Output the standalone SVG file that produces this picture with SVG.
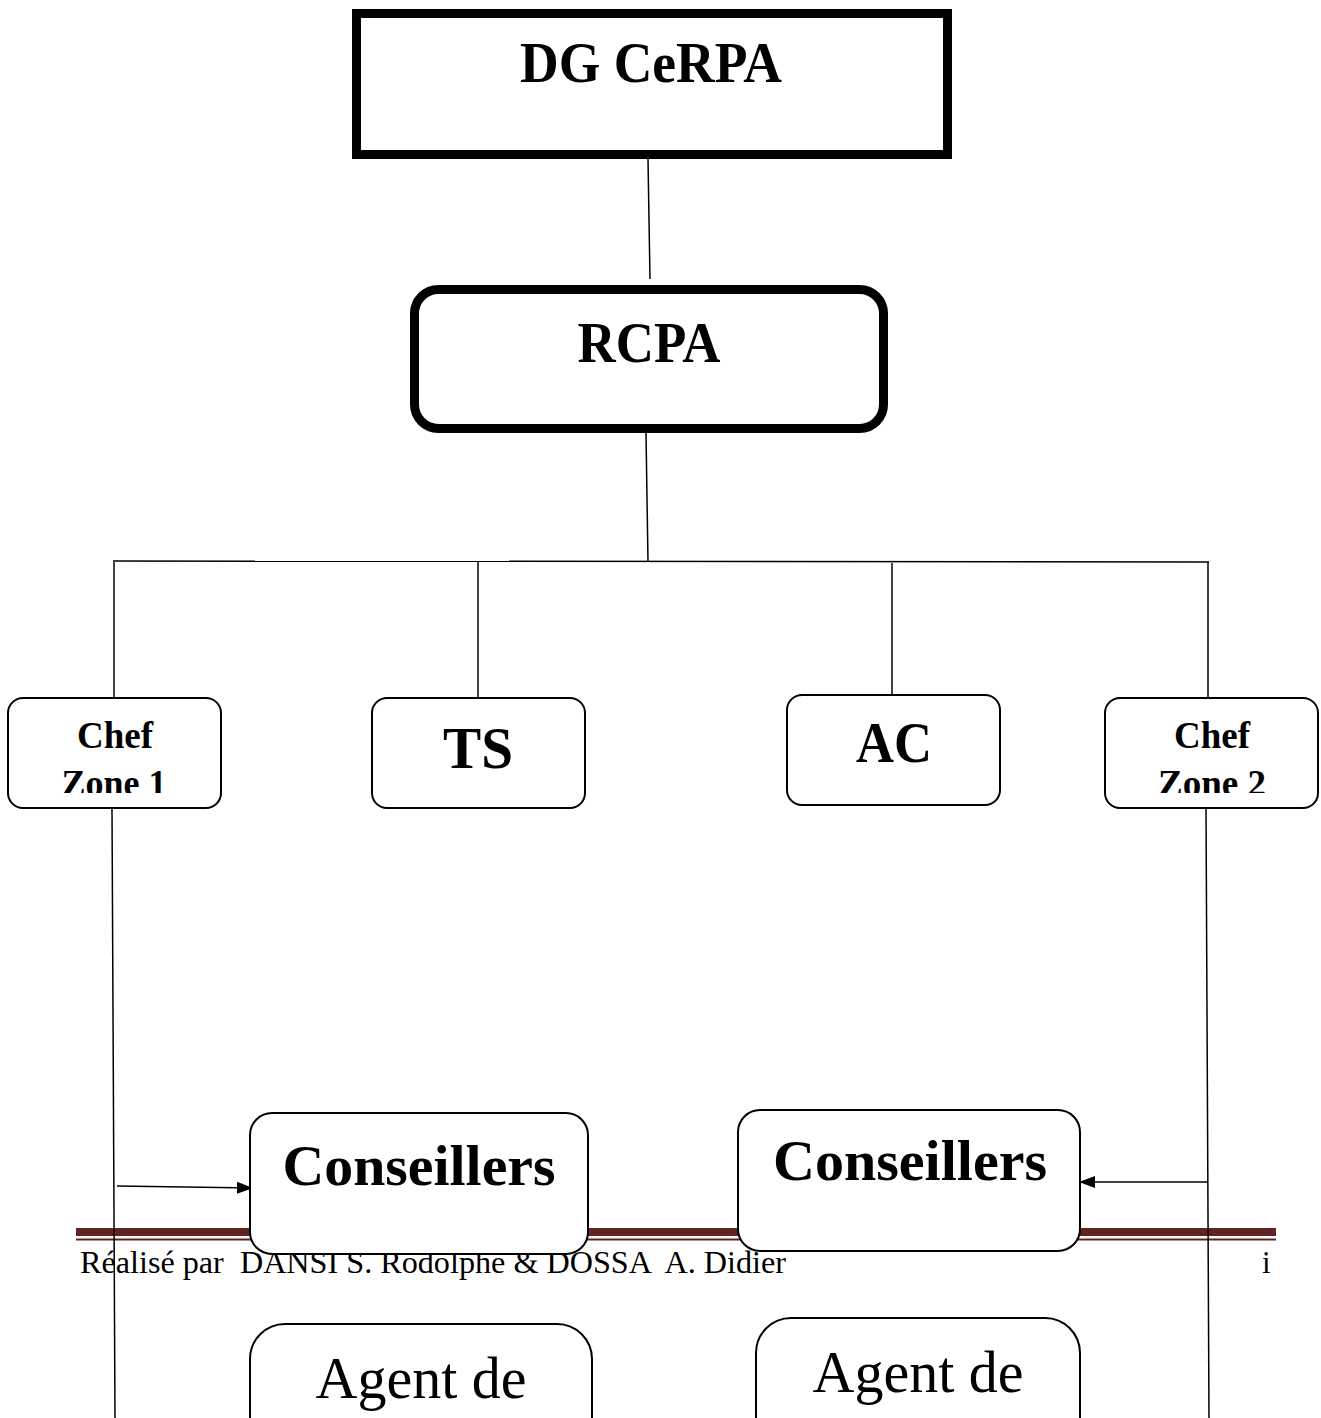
<svg xmlns="http://www.w3.org/2000/svg" width="1321" height="1418" viewBox="0 0 1321 1418">
<style>
.t{font-family:"Liberation Serif","Times New Roman",serif;fill:#000;}
.b{font-weight:bold;}
.box{fill:#fff;stroke:#000;stroke-width:2;}
.thick{fill:#fff;stroke:#000;stroke-width:9;}
.ln{stroke:#000;stroke-width:1.5;fill:none;}
</style>
<defs>
<marker id="ah" markerWidth="16" markerHeight="12" refX="16" refY="6" orient="auto" markerUnits="userSpaceOnUse">
<path d="M0,0 L16,6 L0,12 Z" fill="#000"/>
</marker>
<clipPath id="c1"><rect x="8" y="698" width="214" height="95"/></clipPath>
<clipPath id="c2"><rect x="1105" y="698" width="214" height="95"/></clipPath>
</defs>
<rect width="1321" height="1418" fill="#fff"/>

<g id="footer">
<rect x="76" y="1228" width="1200" height="8" fill="#622423"/>
<rect x="76" y="1238.5" width="1200" height="2" fill="#622423"/>
<text class="t" x="80" y="1273" font-size="31" textLength="706" lengthAdjust="spacingAndGlyphs" xml:space="preserve">Réalisé par  DANSI S. Rodolphe &amp; DOSSA  A. Didier</text>
<text class="t" x="1262" y="1273" font-size="31">i</text>
</g>

<g id="connectors">
<line class="ln" x1="648" y1="159" x2="650" y2="279"/>
<line class="ln" x1="646" y1="433" x2="648" y2="562"/>
<line class="ln" x1="113" y1="561" x2="1209" y2="562"/>
<line class="ln" x1="114" y1="562" x2="114" y2="697"/>
<line class="ln" x1="478" y1="562" x2="478" y2="697"/>
<line class="ln" x1="892" y1="563" x2="892" y2="695"/>
<line class="ln" x1="1208" y1="562" x2="1208" y2="697"/>
<line class="ln" x1="117" y1="1186" x2="253" y2="1188" marker-end="url(#ah)"/>
<line class="ln" x1="1207" y1="1182" x2="1079" y2="1182" marker-end="url(#ah)"/>
</g>

<g id="dg">
<rect class="thick" x="356.5" y="13.5" width="591" height="141"/>
<text class="t b" x="651" y="82" font-size="58" text-anchor="middle" textLength="262" lengthAdjust="spacingAndGlyphs">DG CeRPA</text>
</g>

<g id="rcpa">
<rect class="thick" x="414.5" y="289.5" width="469" height="139" rx="24"/>
<text class="t b" x="649" y="362" font-size="56" text-anchor="middle" textLength="143" lengthAdjust="spacingAndGlyphs">RCPA</text>
</g>

<g id="chef1">
<rect class="box" x="8" y="698" width="213" height="110" rx="15"/>
<text class="t b" x="115" y="748" font-size="38" text-anchor="middle" textLength="76" lengthAdjust="spacingAndGlyphs">Chef</text>
<text class="t b" x="114" y="796" font-size="38" text-anchor="middle" textLength="105" lengthAdjust="spacingAndGlyphs" clip-path="url(#c1)">Zone 1</text>
</g>

<g id="ts">
<rect class="box" x="372" y="698" width="213" height="110" rx="15"/>
<text class="t b" x="478" y="768" font-size="60" text-anchor="middle" textLength="70" lengthAdjust="spacingAndGlyphs">TS</text>
</g>

<g id="ac">
<rect class="box" x="787" y="695" width="213" height="110" rx="15"/>
<text class="t b" x="894" y="762" font-size="58" text-anchor="middle" textLength="76" lengthAdjust="spacingAndGlyphs">AC</text>
</g>

<g id="chef2">
<rect class="box" x="1105" y="698" width="213" height="110" rx="15"/>
<text class="t b" x="1212" y="748" font-size="38" text-anchor="middle" textLength="76" lengthAdjust="spacingAndGlyphs">Chef</text>
<text class="t b" x="1212" y="796" font-size="38" text-anchor="middle" textLength="108" lengthAdjust="spacingAndGlyphs" clip-path="url(#c2)">Zone 2</text>
</g>

<g id="conseillers1">
<rect class="box" x="250" y="1113" width="338" height="141" rx="22"/>
<text class="t b" x="419" y="1185" font-size="58" text-anchor="middle" textLength="273" lengthAdjust="spacingAndGlyphs">Conseillers</text>
</g>

<g id="conseillers2">
<rect class="box" x="738" y="1110" width="342" height="141" rx="22"/>
<text class="t b" x="910" y="1180" font-size="58" text-anchor="middle" textLength="274" lengthAdjust="spacingAndGlyphs">Conseillers</text>
</g>

<g id="agent1">
<rect class="box" x="250" y="1324" width="342" height="140" rx="35"/>
<text class="t" x="421" y="1398" font-size="60" text-anchor="middle" textLength="211" lengthAdjust="spacingAndGlyphs">Agent de</text>
</g>

<g id="agent2">
<rect class="box" x="756" y="1318" width="324" height="140" rx="35"/>
<text class="t" x="918" y="1392" font-size="60" text-anchor="middle" textLength="211" lengthAdjust="spacingAndGlyphs">Agent de</text>
</g>

<g id="zone-lines">
<line class="ln" x1="112" y1="808" x2="115" y2="1418"/>
<line class="ln" x1="1206" y1="808" x2="1209" y2="1418"/>
</g>
</svg>
